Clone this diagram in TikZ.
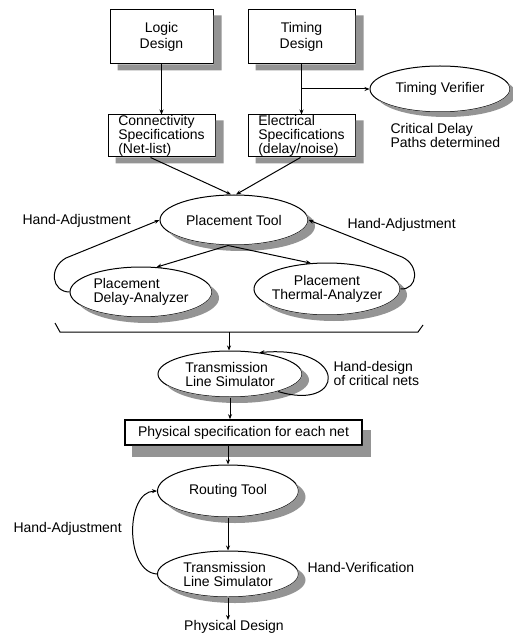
\documentclass[tikz,border=0pt]{standalone}
\usepackage{fontspec}
\setmainfont{Liberation Sans}
\usetikzlibrary{shapes.geometric,arrows.meta}

\begin{document}
\begin{tikzpicture}[x=1pt,y=-1pt,
  font=\fontsize{14}{14}\selectfont,
  line width=1pt,
  >={Stealth[length=5pt,width=4pt]},
  box/.style={draw,fill=white,rectangle,inner sep=0pt,align=center},
  specbox/.style={draw,fill=white,rectangle,inner sep=0pt,align=left},
  oval/.style={draw,fill=white,ellipse,inner sep=0pt},
  lbl/.style={inner sep=0pt,align=left},
  shadowfill/.style={fill=black!42,draw=none}
]
\useasboundingbox (0,0) rectangle (512,636);

% design inputs
\node[box,minimum width=103pt,minimum height=54pt] (logic) at (161.5,37) {Logic\\[2pt]Design};
\node[box,minimum width=107pt,minimum height=54pt] (timing) at (301.5,37) {Timing\\[2pt]Design};
\node[specbox,minimum width=107pt,minimum height=42pt] (conn) at (161.5,136)
  {Connectivity\\Specifications\\(Net-list)};
\node[specbox,minimum width=107pt,minimum height=42pt] (elec) at (301.5,136)
  {Electrical\\Specifications\\(delay/noise)};
\node[oval,minimum width=140pt,minimum height=46pt] (verif) at (440,89) {};
\node[lbl,anchor=north west] (crit) at (390,123) {Critical Delay\\Paths determined};

% placement stage
\node[oval,minimum width=148pt,minimum height=50pt] (pt) at (234,220) {};
\node[oval,minimum width=142pt,minimum height=50pt] (delay) at (141,292) {};
\node[oval,minimum width=146pt,minimum height=52pt] (therm) at (327,289) {};
\node[lbl,anchor=west] (haL) at (22,221) {Hand-Adjustment};
\node[lbl,anchor=west] (haR) at (347,225) {Hand-Adjustment};

% transmission line stage
\node[oval,minimum width=144pt,minimum height=46pt] (tls1) at (230,374) {};
\node[lbl,anchor=west] (hd) at (333,373) {Hand-design\\of critical nets};
\node[draw,fill=white,rectangle,inner sep=0pt,line width=1.6pt,
      minimum width=237pt,minimum height=25pt] (phys) at (243.5,432.5)
      {Physical specification for each net};

% routing stage
\node[oval,minimum width=141pt,minimum height=52pt] (route) at (228,491) {};
\node[oval,minimum width=141pt,minimum height=46pt] (tls2) at (228,574) {};
\node[lbl,anchor=west] (haB) at (13,529) {Hand-Adjustment};
\node[lbl,anchor=west] (hv) at (307,567) {Hand-Verification};
\node[lbl] (pd) at (234,627) {Physical Design};

% drop shadows of the boxes: L-shaped strips below and right of each box
\foreach \n/\dx/\dy in {logic/8/6,timing/8/6,conn/8/6,elec/8/6,phys/8/11}
  \fill[shadowfill] ([shift={(0,\dy)}]\n.north east) -- ([shift={(\dx,\dy)}]\n.north east)
    -- ([shift={(\dx,\dy)}]\n.south east) -- ([shift={(\dx,\dy)}]\n.south west)
    -- ([shift={(\dx,0)}]\n.south west) -- (\n.south east) -- cycle;

% drop shadows of the ovals: offset ellipses kept outside the ovals themselves
\begin{scope}[even odd rule]
  \clip (-10,-10) rectangle (530,650)
    (verif.center) ellipse [x radius=70, y radius=23]
    (pt.center) ellipse [x radius=74, y radius=25]
    (delay.center) ellipse [x radius=71, y radius=25]
    (therm.center) ellipse [x radius=73, y radius=26]
    (tls1.center) ellipse [x radius=72, y radius=23]
    (route.center) ellipse [x radius=70.5, y radius=26]
    (tls2.center) ellipse [x radius=70.5, y radius=23];
  \fill[shadowfill]
    ([shift={(6,5)}]verif.center) ellipse [x radius=70, y radius=23]
    ([shift={(7,6)}]pt.center) ellipse [x radius=74, y radius=25]
    ([shift={(7,6)}]delay.center) ellipse [x radius=71, y radius=25]
    ([shift={(7,6)}]therm.center) ellipse [x radius=73, y radius=26]
    ([shift={(7,6)}]tls1.center) ellipse [x radius=72, y radius=23]
    ([shift={(7,6)}]route.center) ellipse [x radius=70.5, y radius=26]
    ([shift={(7,6)}]tls2.center) ellipse [x radius=70.5, y radius=23];
\end{scope}

% texts of the ovals
\node[lbl] (verifT) at (verif.center) {Timing Verifier};
\node[lbl] (ptT) at (pt.center) {Placement Tool};
\node[lbl] (delayT) at (delay.center) {Placement\\Delay-Analyzer};
\node[lbl,align=center] (thermT) at (therm.center) {Placement\\Thermal-Analyzer};
\node[lbl] (tls1T) at (tls1.center) {Transmission\\Line Simulator};
\node[lbl] (routeT) at (route.center) {Routing Tool};
\node[lbl] (tls2T) at (tls2.center) {Transmission\\Line Simulator};

% connectors
\coordinate (tj) at (301.5,89);
\draw[->] (logic) -- (conn);
\draw[->] (timing) -- (elec);
\draw[->] (tj) -- (verif);
\draw[->] ([xshift=-11pt]conn.south) -- ([xshift=-3pt]pt.north);
\draw[->] ([xshift=-1pt]elec.south) -- ([xshift=2pt]pt.north);

\draw[->] ([xshift=-6pt]pt.south) -- (delay.58);
\draw[->] ([xshift=-6pt]pt.south) -- (therm.122);
\draw[->] (delay.west) .. controls (52,292) and (48,268) .. (66,258) -- (pt.west);
\draw[->] (therm.east) .. controls (418,290) and (420,265) .. (402,257) -- (pt.east);

% collecting bracket
\coordinate (brL) at (55,323);
\coordinate (brR) at (423,325);
\coordinate (br) at (229,332);
\draw (brL) -- (60,332) -- (418,332) -- (brR);
\draw[->] (br) -- (br |- tls1.north);
\draw[->] (tls1.-20) .. controls (345,412) and (350,345) .. (tls1.36);
\draw[->] (tls1.south) -- (tls1.south |- phys.north);
\draw[->] (route.north |- phys.south) -- (route.north);
\draw[->] (route) -- (tls2);
\draw[->] (tls2.west) .. controls (125,572) and (125,492) .. (route.west);
\draw[->] (tls2.south) -- (tls2.south |- pd.north);
\end{tikzpicture}
\end{document}
